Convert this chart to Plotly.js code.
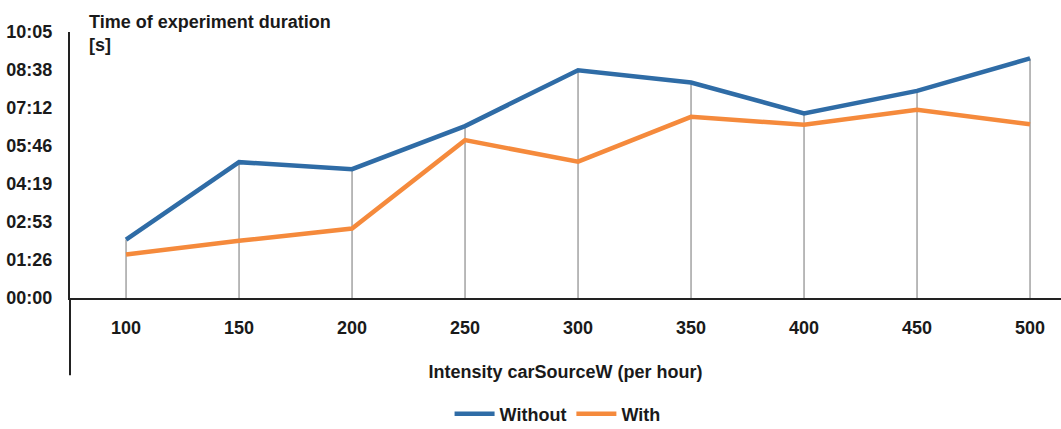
<!DOCTYPE html>
<html>
<head>
<meta charset="utf-8">
<script src="https://cdn.plot.ly/plotly-3.0.1.min.js"></script>
<style>html,body{margin:0;padding:0;background:#fff;}#chart{width:1061px;height:429px;}</style>
</head>
<body>
<div id="chart"></div>
<script>
// Data (durations in seconds)
const intensity = [100, 150, 200, 250, 300, 350, 400, 450, 500];
const withoutVals = [133, 309, 293, 391, 518, 490, 420, 471, 545];
const withVals = [99, 130, 158, 359, 310, 412, 394, 428, 395];
const yTickVals = [0, 86.4, 172.8, 259.2, 345.6, 432, 518.4, 604.8];
const yTickText = ["00:00", "01:26", "02:53", "04:19", "05:46", "07:12", "08:38", "10:05"];

const FONT = '"Liberation Sans Narrow", "Arial Narrow", "Liberation Sans", Arial, sans-serif';

// drop lines from axis to the highest point of each category
const dropX = [], dropY = [];
intensity.forEach((x, i) => {
  dropX.push(x, x, null);
  dropY.push(0, Math.max(withoutVals[i], withVals[i]), null);
});

const traces = [
  {x: dropX, y: dropY, mode: 'lines', line: {color: '#a3a3a3', width: 1.5},
   showlegend: false, hoverinfo: 'skip'},
  {x: intensity, y: withoutVals, mode: 'lines', name: 'Without',
   line: {color: '#2f6ca6', width: 4.5}},
  {x: intensity, y: withVals, mode: 'lines', name: 'With',
   line: {color: '#f58a3c', width: 4.5}}
];

const layout = {
  width: 1061, height: 429,
  margin: {l: 70, r: 0, t: 32, b: 131, autoexpand: false},
  paper_bgcolor: '#ffffff', plot_bgcolor: '#ffffff',
  font: {family: FONT, size: 18, color: '#1a1a1a', weight: 'bold'},
  xaxis: {
    range: [75.2, 513.7], tickvals: intensity, ticktext: intensity.map(String),
    showgrid: false, zeroline: false, showline: true, linecolor: '#222', linewidth: 2,
    ticks: '', ticklabelstandoff: 12,
    tickfont: {family: FONT, size: 18, color: '#1a1a1a', weight: 'bold'},
    title: {text: 'Intensity carSourceW (per hour)', standoff: 29,
            font: {family: FONT, size: 18, color: '#1a1a1a', weight: 'bold'}}
  },
  yaxis: {
    range: [0, 605], tickvals: yTickVals, ticktext: yTickText,
    showgrid: false, zeroline: false, showline: true, linecolor: '#222', linewidth: 2,
    ticks: '', ticklabelstandoff: 12,
    tickfont: {family: FONT, size: 18, color: '#1a1a1a', weight: 'bold'}
  },
  showlegend: true,
  legend: {orientation: 'h', x: 0.492, xanchor: 'center', yref: 'container', y: 0.035, yanchor: 'middle',
           font: {family: FONT, size: 18, color: '#1a1a1a', weight: 'bold'},
           itemwidth: 40, tracegroupgap: 0},
  shapes: [
    {type: 'line', xref: 'paper', yref: 'paper', x0: 0, x1: 0, y0: 0, y1: -0.29,
     line: {color: '#222', width: 2}}
  ],
  annotations: [
    {xref: 'paper', yref: 'paper', x: 0.017, y: 1.0, xanchor: 'left', yanchor: 'bottom',
     yshift: -25, align: 'left', showarrow: false,
     text: 'Time of experiment duration<br>[s]',
     font: {family: FONT, size: 18, color: '#1a1a1a', weight: 'bold'}}
  ]
};

Plotly.newPlot('chart', traces, layout, {displayModeBar: false, staticPlot: true});
</script>
</body>
</html>
